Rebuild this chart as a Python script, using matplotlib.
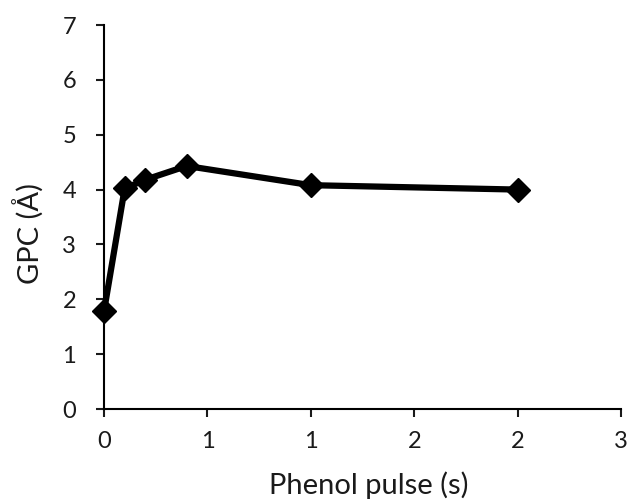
import matplotlib
matplotlib.use("Agg")
import matplotlib.pyplot as plt

pulse = [0, 0.1, 0.2, 0.4, 1.0, 2.0]
gpc = [1.78, 4.02, 4.18, 4.43, 4.08, 4.0]
xticks = [0, 0.5, 1.0, 1.5, 2.0, 2.5]
xticklabels = ["0", "1", "1", "2", "2", "3"]
yticks = [0, 1, 2, 3, 4, 5, 6, 7]

plt.rcParams['font.family'] = ['Lato', 'DejaVu Sans']
fig = plt.figure(figsize=(6.3, 5.04), dpi=100)
ax = fig.add_axes([104/630, 1-409/504, (621-104)/630, (409-25)/504])
ax.plot(pulse, gpc, color='black', lw=4.5, marker='D', markersize=12, zorder=3, clip_on=False)
ax.set_xlim(0, 2.5)
ax.set_ylim(0, 7)
ax.set_xticks(xticks)
ax.set_xticklabels(xticklabels)
ax.set_yticks(yticks)
for s in ['top', 'right']:
    ax.spines[s].set_visible(False)
for s in ['left', 'bottom']:
    ax.spines[s].set_linewidth(1.5)
ax.tick_params(axis='both', direction='out', length=6, width=1.5, labelsize=17, colors='#1a1a1a')
ax.tick_params(axis='x', pad=10)
ax.tick_params(axis='y', pad=14)
ax.set_xlabel('Phenol pulse (s)', fontsize=21, color='#1a1a1a')
ax.set_ylabel('GPC (Å)', fontsize=21, color='#1a1a1a')
ax.xaxis.label.set_va('center')
ax.xaxis.set_label_coords(0.513, -(485-409)/384)
ax.yaxis.label.set_va('center')
ax.yaxis.set_label_coords(-(104-28)/517, (409-233)/384)
fig.savefig('out.png', dpi=100)
